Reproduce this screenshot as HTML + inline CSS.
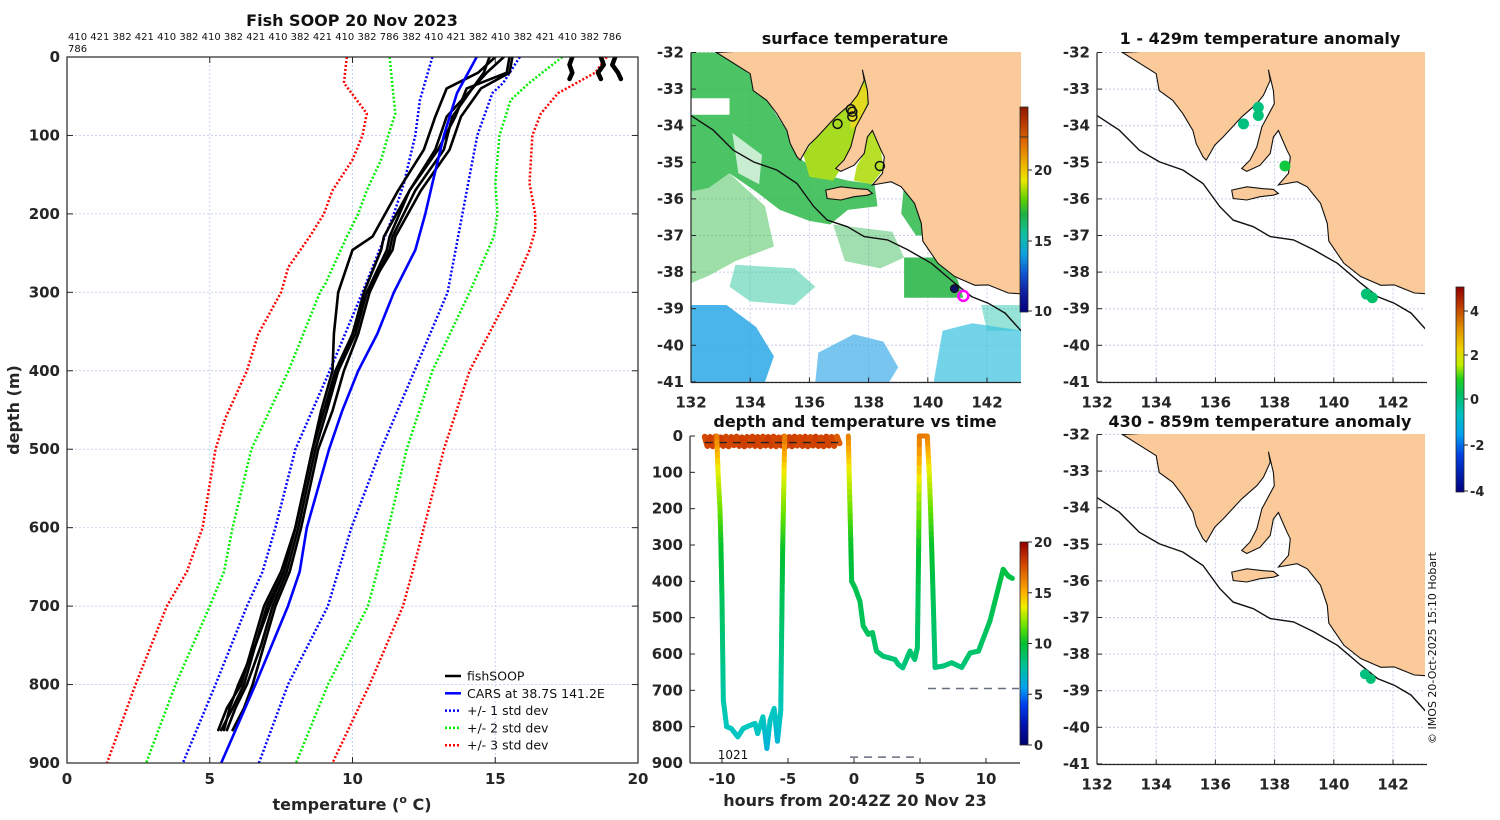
<!DOCTYPE html>
<html><head><meta charset="utf-8">
<style>
html,body{margin:0;padding:0;background:#fff;}
svg{display:block;font-family:"DejaVu Sans","Liberation Sans",sans-serif;}
.tk{font-size:15px;font-weight:bold;fill:#262626;}
</style></head>
<body>
<svg id="fig" width="1500" height="820" viewBox="0 0 1500 820" xmlns="http://www.w3.org/2000/svg">
<defs>
<linearGradient id="gSst" x1="0" y1="0" x2="0" y2="1">
<stop offset="0" stop-color="#8b1a00"/><stop offset="0.06" stop-color="#b03000"/><stop offset="0.18" stop-color="#e07000"/><stop offset="0.3" stop-color="#f0c000"/><stop offset="0.36" stop-color="#e8e800"/><stop offset="0.45" stop-color="#60d000"/><stop offset="0.52" stop-color="#20b040"/><stop offset="0.62" stop-color="#10c0a0"/><stop offset="0.72" stop-color="#10a0e0"/><stop offset="0.82" stop-color="#1050d0"/><stop offset="0.9" stop-color="#1020a0"/><stop offset="1" stop-color="#000080"/>
</linearGradient>
<linearGradient id="gTime" x1="0" y1="0" x2="0" y2="1">
<stop offset="0" stop-color="#900000"/><stop offset="0.1" stop-color="#d04000"/><stop offset="0.25" stop-color="#ffb000"/><stop offset="0.32" stop-color="#f0f000"/><stop offset="0.42" stop-color="#60e000"/><stop offset="0.5" stop-color="#00c030"/><stop offset="0.62" stop-color="#00c0a0"/><stop offset="0.72" stop-color="#00a0f0"/><stop offset="0.8" stop-color="#0040f0"/><stop offset="0.9" stop-color="#0010b0"/><stop offset="1" stop-color="#000070"/>
</linearGradient>
<linearGradient id="gAnom" x1="0" y1="0" x2="0" y2="1">
<stop offset="0" stop-color="#900000"/><stop offset="0.1" stop-color="#c04000"/><stop offset="0.2" stop-color="#e09000"/><stop offset="0.3" stop-color="#f0d000"/><stop offset="0.38" stop-color="#c0f000"/><stop offset="0.45" stop-color="#20d020"/><stop offset="0.52" stop-color="#00c060"/><stop offset="0.62" stop-color="#00c0c0"/><stop offset="0.72" stop-color="#00a0f0"/><stop offset="0.82" stop-color="#0040e0"/><stop offset="1" stop-color="#000080"/>
</linearGradient>
<clipPath id="cMid"><rect x="691" y="52" width="330" height="330"/></clipPath>
<clipPath id="cR1"><rect x="1097" y="52" width="328" height="330"/></clipPath>
<clipPath id="cR2"><rect x="1097" y="434" width="328" height="330"/></clipPath>
<clipPath id="cLeft"><rect x="67" y="57" width="571" height="706"/></clipPath>
<clipPath id="cTime"><rect x="690" y="430" width="331" height="334"/></clipPath>
</defs>
</svg>
<script>
// ---------- DATA: left profile panel ----------
const stdRedLeftDepth=[0,33,72,100,131,170,200,229,268,300,353,400,460,500,600,656,700,800,900];
const stdRedLeftTemp=[9.8,9.7,10.5,10.35,10.0,9.3,9.0,8.5,7.75,7.5,6.7,6.3,5.55,5.2,4.75,4.2,3.5,2.4,1.4];
const stdGreenLeftDepth=[0,72,100,131,170,200,229,289,300,400,500,600,656,700,800,900];
const stdGreenLeftTemp=[11.3,11.5,11.25,11.0,10.5,10.2,9.8,9.05,8.86,7.76,6.46,5.8,5.5,5.0,3.8,2.77];
const stdBlueLeftDepth=[0,55,100,161,200,300,400,500,600,656,700,800,900];
const stdBlueLeftTemp=[12.8,12.36,12.2,11.8,11.45,10.35,9.2,8.0,7.3,6.85,6.3,5.2,4.06];
const carsDepth=[0,46,100,161,200,246,300,353,400,451,500,600,656,700,800,900];
const carsTemp=[14.35,13.66,13.2,12.8,12.55,12.2,11.45,10.87,10.2,9.64,9.18,8.4,8.15,7.74,6.6,5.4];
const stdBlueRightDepth=[0,33,46,100,200,300,400,500,600,656,700,800,900];
const stdBlueRightTemp=[15.86,15.28,14.9,14.37,13.85,13.33,12.17,11.0,9.96,9.5,9.14,7.74,6.72];
const stdGreenRightDepth=[0,33,55,100,161,200,229,300,400,500,600,656,700,800,900];
const stdGreenRightTemp=[17.35,16.19,15.54,15.15,15.0,15.08,14.95,14.1,12.8,11.9,11.26,10.87,10.54,9.14,8.02];
const stdRedRightDepth=[0,20,46,72,100,161,200,221,246,300,400,500,600,656,700,800,900];
const stdRedRightTemp=[18.9,18.5,17.2,16.6,16.3,16.2,16.4,16.4,16.2,15.54,14.1,13.2,12.5,12.1,11.77,10.6,9.3];
const fishDepth=[0,20,40,76,118,170,229,246,300,353,400,451,500,550,600,656,700,750,800,830,858];
const fish1=[15.0,14.4,13.3,12.9,12.5,11.6,10.7,10.0,9.5,9.35,9.3,8.9,8.6,8.3,8.0,7.6,7.1,6.6,6.0,5.7,5.5];
const fish2=[15.5,15.4,14.0,13.6,13.0,12.0,11.3,11.2,10.5,10.1,9.5,9.1,8.7,8.4,8.1,7.7,7.2,6.8,6.3,5.9,5.6];
const fish3=[15.3,14.7,14.2,13.5,13.2,12.2,11.4,11.3,10.6,10.2,9.7,9.3,8.8,8.5,8.2,7.8,7.3,6.9,6.5,6.2,5.8];
const fish4=[15.6,15.5,14.5,13.8,13.4,12.4,11.5,11.4,10.5,10.0,9.4,9.0,8.6,8.3,8.0,7.6,7.0,6.6,6.2,5.8,5.4];
const fish5=[14.8,14.6,14.2,13.3,12.9,12.0,11.1,11.0,10.4,10.0,9.5,9.0,8.6,8.3,8.0,7.5,6.9,6.5,6.1,5.6,5.3];
const shortDepth=[0,10,20,28];
const shortA=[17.7,17.6,17.7,17.6];
const shortB=[18.7,18.8,18.6,18.7];
const shortC=[19.2,19.1,19.3,19.4];
const tempTicks=[0,5,10,15,20];
const depthTicks=[0,100,200,300,400,500,600,700,800,900];
// ---------- DATA: time panel ----------
const hours1=[-10.4,-10.3,-10.15,-10.08,-10.0,-9.9,-9.65,-9.3,-8.8,-8.4,-8.1,-7.5,-7.3,-6.9,-6.6,-6.35,-6.05,-5.8,-5.55,-5.5,-5.45,-5.4,-5.35,-5.3,-5.25];
const depth1=[0,100,204,300,450,727,800,805,828,805,800,791,819,773,860,782,750,840,755,600,450,300,204,100,0];
const temp1=[16.5,13.5,11.8,10.2,9.0,7.4,7.0,7.0,6.9,7.0,7.0,7.0,6.9,7.0,6.2,6.9,7.0,6.3,7.0,8.0,9.0,10.2,11.8,13.5,16.5];
const hours2=[-0.43,-0.37,-0.3,-0.24,-0.18,0.08,0.45,0.7,1.08,1.4,1.7,2.2,3.1,3.36,3.7,4.24,4.6,4.8,4.85,4.9,4.93,4.95,5.55,5.7,5.8,5.88,6.0,6.14,6.77,7.4,8.16,8.8,9.43,10.3,11.3,11.67,12.0];
const depth2=[0,100,204,300,400,418,455,523,546,541,592,606,615,629,638,592,615,583,450,300,150,0,0,100,200,300,450,637,633,624,637,597,592,509,367,385,392];
const temp2=[16.5,13.5,11.8,10.2,9.4,9.3,9.2,9.0,8.9,8.9,8.6,8.5,8.4,8.3,8.2,8.5,8.4,8.6,9.0,10.2,12.8,16.5,16.5,13.5,11.8,10.2,9.0,8.3,8.3,8.4,8.3,8.6,8.6,9.0,9.6,9.5,9.5];
const hoursS=[-11.3,-11.1,-10.9,-10.7,-10.5,-10.3,-10.1,-9.9,-9.7,-9.5,-9.3,-9.1,-8.9,-8.7,-8.5,-8.3,-8.1,-7.9,-7.7,-7.5,-7.3,-7.1,-6.9,-6.7,-6.5,-6.3,-6.1,-5.9,-5.7,-5.5,-5.3,-5.1,-4.9,-4.7,-4.5,-4.3,-4.1,-3.9,-3.7,-3.5,-3.3,-3.1,-2.9,-2.7,-2.5,-2.3,-2.1,-1.9,-1.7,-1.5,-1.3,-1.1];
const depthS=[2,27,3,28,2,26,4,27,2,28,3,25,2,27,4,28,3,26,2,27,3,28,2,26,3,27,2,28,4,26,2,27,3,28,2,26,3,27,2,28,3,26,2,27,4,28,2,26,3,27,2,20];
const tempS=[17.5,18,17.8,18.2,17.6,18,17.9,18.3,17.7,18,17.8,18.2,17.6,18.1,17.8,18.3,17.9,18,17.6,18.2,17.8,18.1,17.7,18,17.9,18.3,17.8,18,17.6,18.2,17.8,18.1,17.7,18.3,17.9,18,17.6,18.2,17.8,18.1,17.7,18,17.9,18.3,17.6,18,17.8,18.2,17.7,18,17.5,17];
const hourTicks=[-10,-5,0,5,10];
const tDepthTicks=[0,100,200,300,400,500,600,700,800,900];
// ---------- DATA: maps ----------
const lonTicks=[132,134,136,138,140,142];
const latTicks=[-32,-33,-34,-35,-36,-37,-38,-39,-40,-41];
const landLon=[132.86,134.0,134.1,134.56,134.9,135.24,135.35,135.58,135.69,135.98,136.26,136.89,137.4,137.62,137.85,137.79,137.96,137.99,137.57,137.4,137.17,136.89,137.06,137.51,137.85,137.96,138.13,138.42,138.53,138.47,138.13,138.76,139.1,139.55,139.78,139.83,140.34,140.91,141.42,141.59,142.04,142.72,143.3,143.3];
const landLat=[-32.0,-32.58,-33.04,-33.31,-33.67,-34.13,-34.49,-34.85,-34.94,-34.53,-34.31,-33.76,-33.4,-33.17,-32.76,-32.47,-33.04,-33.4,-34.03,-34.58,-34.94,-35.17,-35.25,-35.08,-34.76,-34.31,-34.13,-34.67,-34.85,-35.3,-35.62,-35.53,-35.67,-36.12,-36.67,-37.15,-37.76,-38.12,-38.3,-38.36,-38.35,-38.57,-38.6,-31.5];
const kiLon=[136.55,137.06,137.62,137.96,138.13,137.96,137.51,137.06,136.6];
const kiLat=[-35.76,-35.67,-35.72,-35.74,-35.85,-35.9,-35.94,-36.03,-35.99];
const shelfLon=[131.9,132.75,133.43,134.11,134.9,135.58,136.15,136.6,137.28,137.85,138.64,139.32,140.12,140.91,141.48,142.04,142.61,143.12,143.3];
const shelfLat=[-33.67,-34.12,-34.67,-34.99,-35.21,-35.58,-36.21,-36.58,-36.76,-37.03,-37.12,-37.39,-37.76,-38.3,-38.67,-38.85,-39.12,-39.58,-39.7];
const shallowLon=[137.4,137.45,137.45,136.95,138.38];
const shallowLat=[-33.55,-33.62,-33.75,-33.95,-35.1];
const anomLon=[136.95,137.45,137.45,138.35,141.1,141.3];
const anomLat=[-33.95,-33.5,-33.72,-35.1,-38.6,-38.7];
const anomVal=[-0.3,-0.3,-0.2,0.3,-0.2,-0.1];
const anom2Lon=[141.05,141.25];
const anom2Lat=[-38.55,-38.68];
const anom2Val=[-0.3,-0.2];

// ---------- helpers ----------
const NS='http://www.w3.org/2000/svg';
const svg=document.getElementById('fig');
function el(tag,attrs,parent){const e=document.createElementNS(NS,tag);for(const k in attrs)e.setAttribute(k,attrs[k]);(parent||svg).appendChild(e);return e;}
function txt(x,y,s,cls,anchor,parent){const t=el('text',{x:x,y:y,'class':cls||'tk','text-anchor':anchor||'middle'},parent);t.textContent=s;return t;}
function pathFrom(xs,ys){return xs.map((x,i)=>(i?'L':'M')+x.toFixed(1)+' '+ys[i].toFixed(1)).join(' ');}
function cmap(stops,v){if(v<=stops[0][0])return 'rgb('+stops[0][1].join(',')+')';for(let i=1;i<stops.length;i++){if(v<=stops[i][0]){const a=stops[i-1],b=stops[i];const f=(v-a[0])/(b[0]-a[0]);const ca=a[1],cb=b[1];return 'rgb('+[0,1,2].map(k=>Math.round(ca[k]+(cb[k]-ca[k])*f)).join(',')+')';}}const l=stops[stops.length-1][1];return 'rgb('+l.join(',')+')';}
const timeStops=[[0,[0,0,112]],[2,[0,16,176]],[4,[0,64,240]],[5.6,[0,160,240]],[7.0,[0,200,190]],[8.5,[0,196,110]],[10,[0,192,48]],[11.6,[96,224,0]],[13.6,[240,240,0]],[15,[255,176,0]],[18,[208,64,0]],[20,[144,0,0]]];
const anomStops=[[-4.2,[0,0,128]],[-2.5,[0,64,224]],[-1.6,[0,160,240]],[-0.9,[0,192,192]],[0,[0,192,96]],[0.6,[32,208,32]],[1.5,[192,240,0]],[2.3,[240,208,0]],[3.2,[224,144,0]],[4.2,[192,64,0]],[5.1,[144,0,0]]];

// ================= LEFT PANEL =================
const L={x0:67,x1:638,y0:57,y1:763};
const xT=t=>L.x0+t*(L.x1-L.x0)/20;
const yD=d=>L.y0+d*(L.y1-L.y0)/900;
const gLeft=el('g',{});


[5,10,15].forEach(t=>{const g=el('line',{x1:xT(t),x2:xT(t),y1:L.y0,y2:L.y1,stroke:'#c5d2ef','stroke-width':1,'stroke-dasharray':'2,2'},gLeft);

});
[100,200,300,400,500,600,700,800].forEach(d=>{const g=el('line',{x1:L.x0,x2:L.x1,y1:yD(d),y2:yD(d),stroke:'#cfd4ec','stroke-width':1,'stroke-dasharray':'2,2'},gLeft);

});
const cl=el('g',{'clip-path':'url(#cLeft)'},gLeft);
function curve(ds,ts,color,w,dash,name){const p=el('path',{d:pathFrom(ts.map(xT),ds.map(yD)),fill:'none',stroke:color,'stroke-width':w,'stroke-dasharray':dash||'none','stroke-linejoin':'round','stroke-linecap':dash?'butt':'round'},cl);

return p;}
curve(stdRedLeftDepth,stdRedLeftTemp,'#ff0000',2.5,'2,2','minus-3-std-line');
curve(stdGreenLeftDepth,stdGreenLeftTemp,'#00ee00',2.5,'2,2','minus-2-std-line');
curve(stdBlueLeftDepth,stdBlueLeftTemp,'#0000ff',2.5,'2,2','minus-1-std-line');
curve(stdBlueRightDepth,stdBlueRightTemp,'#0000ff',2.5,'2,2','plus-1-std-line');
curve(stdGreenRightDepth,stdGreenRightTemp,'#00ee00',2.5,'2,2','plus-2-std-line');
curve(stdRedRightDepth,stdRedRightTemp,'#ff0000',2.5,'2,2','plus-3-std-line');
[fish1,fish2,fish3,fish4,fish5].forEach(f=>curve(fishDepth,f,'#000',2.6,null,'fishsoop-profile'));
[shortA,shortB,shortC].forEach(f=>curve(shortDepth,f,'#000',4.5,null,'fishsoop-surface-profile'));
curve(carsDepth,carsTemp,'#0000ff',2.6,null,'cars-mean-line');
const bx=el('rect',{x:L.x0,y:L.y0,width:L.x1-L.x0,height:L.y1-L.y0,fill:'none',stroke:'#262626','stroke-width':1.2},gLeft);


tempTicks.forEach(t=>{el('line',{x1:xT(t),x2:xT(t),y1:L.y1,y2:L.y1-6,stroke:'#262626'},gLeft);el('line',{x1:xT(t),x2:xT(t),y1:L.y0,y2:L.y0+6,stroke:'#262626'},gLeft);
const l=txt(xT(t),784,String(t),'tk','middle',gLeft);

});
depthTicks.forEach(d=>{el('line',{x1:L.x0,x2:L.x0+6,y1:yD(d),y2:yD(d),stroke:'#262626'},gLeft);el('line',{x1:L.x1,x2:L.x1-6,y1:yD(d),y2:yD(d),stroke:'#262626'},gLeft);
const l=txt(60,yD(d)+5,String(d),'tk','end',gLeft);

});
</script>
<script>
(function(){
const s=document.getElementById('fig');
const NS='http://www.w3.org/2000/svg';
function t(x,y,str,style,anchor,name,rot){const e=document.createElementNS(NS,'text');e.setAttribute('x',x);e.setAttribute('y',y);e.setAttribute('style',style);e.setAttribute('text-anchor',anchor);if(rot)e.setAttribute('transform',rot);e.textContent=str;s.appendChild(e);

return e;}
t(352,26,'Fish SOOP 20 Nov 2023','font-size:16px;font-weight:bold;fill:#111','middle','left-chart-title');
t(68,40,'410 421 382 421 410 382 410 382 421 410 382 421 410 382 786 382 410 421 382 410 382 421 410 382 786','font-size:10px;fill:#111','start','top-drop-ids');
t(68,52,'786','font-size:10px;fill:#111','start','top-drop-ids-line2');
t(0,0,'depth (m)','font-size:16px;font-weight:bold;fill:#262626','middle','y-axis-title','translate(19,410) rotate(-90)');
const xl=t(352,810,'temperature (','font-size:16px;font-weight:bold;fill:#262626','middle','x-axis-title');
xl.innerHTML='temperature (<tspan dy="-7" font-size="11">o</tspan><tspan dy="7"> C)</tspan>';
t(855,806,'hours from 20:42Z 20 Nov 23','font-size:16px;font-weight:bold;fill:#262626','middle','time-x-axis-title');
t(855,427,'depth and temperature vs time','font-size:16px;font-weight:bold;fill:#111','middle','time-chart-title');
t(855,44,'surface temperature','font-size:16px;font-weight:bold;fill:#111','middle','sst-map-title');
t(1260,44,'1 - 429m temperature anomaly','font-size:16px;font-weight:bold;fill:#111','middle','anomaly-map-1-title');
t(1260,427,'430 - 859m temperature anomaly','font-size:16px;font-weight:bold;fill:#111','middle','anomaly-map-2-title');
t(0,0,'© IMOS 20-Oct-2025 15:10 Hobart','font-size:11px;fill:#111','middle','imos-credit','translate(1436,648) rotate(-90)');
t(733,759,'1021','font-size:12px;fill:#111','middle','bottom-depth-label');
const leg=[['fishSOOP','#000',null],['CARS at 38.7S 141.2E','#0000ff',null],['+/- 1 std dev','#0000ff','2,2'],['+/- 2 std dev','#00ee00','2,2'],['+/- 3 std dev','#ff0000','2,2']];
leg.forEach((e,i)=>{const y=676+i*17.3;const ln=document.createElementNS(NS,'line');ln.setAttribute('x1',445);ln.setAttribute('x2',461);ln.setAttribute('y1',y);ln.setAttribute('y2',y);ln.setAttribute('stroke',e[1]);ln.setAttribute('stroke-width',2.5);if(e[2])ln.setAttribute('stroke-dasharray',e[2]);s.appendChild(ln);


t(467,y+4.5,e[0],'font-size:12.5px;fill:#111','start','legend-entry');});
})();
</script>
<script>
// ================= TIME PANEL =================
(function(){
const T={x0:690,x1:1020,y0:436,y1:763};
const xH=h=>854+h*13.2;
const yZ=d=>436+d*(763-436)/900;
const g=el('g',{});


const gc=el('g',{'clip-path':'url(#cTime)'},g);
const d2=el('line',{x1:xH(5.6),x2:xH(12.5),y1:yZ(695),y2:yZ(695),stroke:'#666e80','stroke-width':1.5,'stroke-dasharray':'8,6'},gc);


const d3=el('line',{x1:xH(-0.3),x2:xH(5.0),y1:yZ(884),y2:yZ(884),stroke:'#666e80','stroke-width':1.5,'stroke-dasharray':'8,6'},gc);


function trace(hs,ds,ts,w,name,sub){for(let i=0;i<hs.length-1;i++){for(let k=0;k<sub;k++){const f0=k/sub,f1=(k+1)/sub;const h0=hs[i]+(hs[i+1]-hs[i])*f0,h1=hs[i]+(hs[i+1]-hs[i])*f1;const z0=ds[i]+(ds[i+1]-ds[i])*f0,z1=ds[i]+(ds[i+1]-ds[i])*f1;const tv=ts[i]+(ts[i+1]-ts[i])*(f0+f1)/2;
const seg=el('line',{x1:xH(h0),y1:yZ(z0),x2:xH(h1),y2:yZ(z1),stroke:cmap(timeStops,tv),'stroke-width':w,'stroke-linecap':'round'},gc);

}}}
trace(hoursS,depthS,tempS,6,'surface-trace-segment',1);
const d1=el('line',{x1:xH(-11.3),x2:xH(-1.2),y1:yZ(18),y2:yZ(18),stroke:'#222','stroke-width':1.3,'stroke-dasharray':'8,6'},gc);


trace(hours1,depth1,temp1,5,'dive-trace-segment',6);
trace(hours2,depth2,temp2,5,'dive-trace-segment',6);
el('line',{x1:T.x0,x2:T.x0,y1:T.y0,y2:T.y1,stroke:'#262626','stroke-width':1.2},g);
el('line',{x1:T.x0,x2:T.x1,y1:T.y1,y2:T.y1,stroke:'#262626','stroke-width':1.2},g);
hourTicks.forEach(h=>{el('line',{x1:xH(h),x2:xH(h),y1:T.y1,y2:T.y1-5,stroke:'#262626'},g);
const l=txt(xH(h),784,String(h),'tk','middle',g);

});
tDepthTicks.forEach(d=>{el('line',{x1:T.x0,x2:T.x0+5,y1:yZ(d),y2:yZ(d),stroke:'#262626'},g);
const l=txt(683,yZ(d)+5,String(d),'tk','end',g);

});
const cb=el('rect',{x:1020,y:542,width:8,height:203,fill:'url(#gTime)',stroke:'#262626','stroke-width':0.8},g);


[20,15,10,5,0].forEach(v=>{const y=745-v*203/20;el('line',{x1:1028,x2:1032,y1:y,y2:y,stroke:'#262626'},g);
const l=txt(1034,y+5,String(v),'tk','start',g);l.setAttribute('style','font-size:13px');

});
})();

// ================= MAPS =================
function drawMap(x0,y0,clip,name,kind){
const P=(lon,lat)=>[x0+(lon-132)*29.6, y0+(-32-lat)*36.6];
const g=el('g',{});


const gc=el('g',{'clip-path':'url(#'+clip+')'},g);
el('rect',{x:x0,y:y0,width:330,height:330,fill:'#fff'},gc);
function poly(lons,lats,fill,op,nm){const xs=[],ys=[];lons.forEach((l,i)=>{const p=P(l,lats[i]);xs.push(p[0]);ys.push(p[1]);});const e=el('path',{d:pathFrom(xs,ys)+'Z',fill:fill,'fill-opacity':op||1},gc);

return e;}
function polyPts(pts,fill,op,nm){return poly(pts.map(p=>p[0]),pts.map(p=>p[1]),fill,op,nm);}
lonTicks.forEach(l=>{const p=P(l,-32);el('line',{x1:p[0],x2:p[0],y1:y0,y2:y0+330,stroke:'#c8cde6','stroke-dasharray':'2,2'},gc);});
latTicks.forEach(l=>{const p=P(132,l);el('line',{x1:x0,x2:x0+330,y1:p[1],y2:p[1],stroke:'#c8cde6','stroke-dasharray':'2,2'},gc);});
if(kind==='sst'){
polyPts([[132,-32],[132.9,-32],[134,-32.6],[135.2,-34.1],[135.7,-34.9],[136.3,-35.3],[137.3,-35.5],[138.2,-35.6],[138.3,-36.2],[137.3,-36.3],[136.7,-36.7],[136.0,-36.6],[135,-36.3],[134.2,-35.8],[133.3,-35.3],[132.6,-35.7],[132,-35.8]],'#2db84a',0.85,'sst-patch');
polyPts([[132,-33.25],[133.3,-33.25],[133.3,-33.7],[132,-33.7]],'#ffffff',1,'sst-gap');
polyPts([[133.4,-34.2],[134.4,-34.8],[134.3,-35.6],[133.6,-35.3]],'#ffffff',0.7,'sst-gap');
polyPts([[132,-35.8],[132.6,-35.7],[133.3,-35.3],[134.5,-36.2],[134.8,-37.3],[133.5,-37.7],[132.6,-38.1],[132,-38.3]],'#3cc050',0.5,'sst-patch');
polyPts([[139.2,-35.6],[140.2,-36.2],[140.3,-37.0],[139.6,-37.0],[139.1,-36.4]],'#2db84a',0.85,'sst-patch');
polyPts([[139.2,-37.6],[140.3,-37.6],[141,-38.2],[141.2,-38.7],[139.2,-38.7]],'#2db84a',0.9,'sst-patch');
polyPts([[136.8,-36.7],[138.8,-36.9],[139.2,-37.6],[138.4,-37.9],[137.2,-37.7]],'#30b850',0.45,'sst-patch');
polyPts([[133.5,-37.8],[135.5,-37.9],[136.2,-38.4],[135.5,-38.9],[134,-38.8],[133.3,-38.4]],'#2cc8a0',0.5,'sst-patch');
polyPts([[141.8,-38.9],[143.2,-38.9],[143.2,-39.6],[142,-39.6]],'#30c8b0',0.5,'sst-patch');
polyPts([[132,-38.9],[133.2,-38.9],[134.2,-39.5],[134.8,-40.3],[134.5,-41],[132,-41]],'#2aa8e8',0.85,'sst-patch');
polyPts([[136.3,-40.2],[137.5,-39.7],[138.5,-39.9],[139,-40.6],[138.7,-41],[136.2,-41]],'#30a8e8',0.65,'sst-patch');
polyPts([[140.5,-39.6],[141.5,-39.4],[143.2,-39.6],[143.2,-41],[140.2,-41]],'#38c0e0',0.7,'sst-patch');
polyPts([[135.8,-34.8],[136.3,-34.2],[136.9,-33.7],[137.4,-33.3],[137.8,-32.5],[138.0,-33.0],[138.0,-33.4],[137.57,-34.03],[137.4,-34.58],[137.2,-35.0],[136.8,-35.5],[136.0,-35.4]],'#a8dc20',1,'gulf-sst');
polyPts([[137.3,-33.3],[137.7,-32.7],[138.0,-33.1],[137.8,-33.9],[137.4,-34.1]],'#e8d820',0.9,'gulf-sst');
polyPts([[137.96,-34.31],[138.13,-34.13],[138.42,-34.67],[138.5,-35.2],[138.1,-35.6],[137.5,-35.5],[137.6,-35.1],[137.85,-34.76]],'#b8e028',1,'gulf-sst');
}
const land=poly(landLon,landLat,'#fbca9a',1,'land');
land.setAttribute('stroke','#111');land.setAttribute('stroke-width','1.1');
const ki=poly(kiLon,kiLat,'#fbca9a',1,'kangaroo-island');
ki.setAttribute('stroke','#111');ki.setAttribute('stroke-width','1.1');
const sx=[],sy=[];shelfLon.forEach((l,i)=>{const p=P(l,shelfLat[i]);sx.push(p[0]);sy.push(p[1]);});
const sh=el('path',{d:pathFrom(sx,sy),fill:'none',stroke:'#111','stroke-width':1.4},gc);


if(kind==='sst'){
shallowLon.forEach((l,i)=>{const p=P(l,shallowLat[i]);const c=el('circle',{cx:p[0],cy:p[1],r:4.5,fill:'none',stroke:'#111','stroke-width':1.5},gc);

});
let p=P(140.9,-38.45);const c1=el('circle',{cx:p[0],cy:p[1],r:4,fill:'#101060',stroke:'#111'},gc);


p=P(141.2,-38.65);const c2=el('circle',{cx:p[0],cy:p[1],r:5,fill:'none',stroke:'#ff00ff','stroke-width':2.5},gc);


}
if(kind==='a1'){anomLon.forEach((l,i)=>{const p=P(l,anomLat[i]);const c=el('circle',{cx:p[0],cy:p[1],r:5.5,fill:cmap(anomStops,anomVal[i])},gc);

});}
if(kind==='a2'){anom2Lon.forEach((l,i)=>{const p=P(l,anom2Lat[i]);const c=el('circle',{cx:p[0],cy:p[1],r:5,fill:cmap(anomStops,anom2Val[i])},gc);

});}
el('line',{x1:x0,x2:x0,y1:y0,y2:y0+330,stroke:'#262626','stroke-width':1.2},g);
el('line',{x1:x0,x2:x0+330,y1:y0+330,y2:y0+330,stroke:'#262626','stroke-width':1.2},g);
lonTicks.forEach(l=>{const p=P(l,-41);el('line',{x1:p[0],x2:p[0],y1:y0+330,y2:y0+325,stroke:'#262626'},g);
const t=txt(p[0],y0+355,String(l),'tk','middle',g);

});
latTicks.forEach(l=>{const p=P(132,l);el('line',{x1:x0,x2:x0+5,y1:p[1],y2:p[1],stroke:'#262626'},g);
const t=txt(x0-7,p[1]+5,String(l),'tk','end',g);

});
}
drawMap(691,52.5,'cMid','sst-map','sst');
drawMap(1097,52.5,'cR1','anomaly-map-shallow','a1');
drawMap(1097,434.5,'cR2','anomaly-map-deep','a2');
(function(){
const cb=el('rect',{x:1020,y:107,width:8,height:205,fill:'url(#gSst)',stroke:'#262626','stroke-width':0.8});


el('line',{x1:1020,x2:1028,y1:137,y2:137,stroke:'#333','stroke-width':1});
[[20,170],[15,241],[10,311]].forEach(v=>{el('line',{x1:1028,x2:1032,y1:v[1],y2:v[1],stroke:'#262626'});
const l=txt(1034,v[1]+5,String(v[0]),'tk','start');l.setAttribute('style','font-size:13px');

});
const ab=el('rect',{x:1456,y:287,width:8,height:205,fill:'url(#gAnom)',stroke:'#262626','stroke-width':0.8});


[[4,311],[2,355],[0,399],[-2,445],[-4,491]].forEach(v=>{el('line',{x1:1464,x2:1468,y1:v[1],y2:v[1],stroke:'#262626'});
const l=txt(1470,v[1]+5,String(v[0]),'tk','start');l.setAttribute('style','font-size:13px');

});
})();
</script>
</body></html>
